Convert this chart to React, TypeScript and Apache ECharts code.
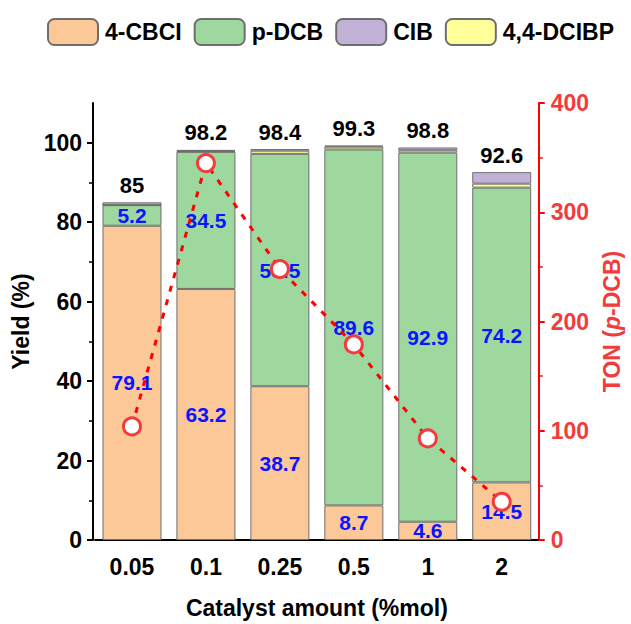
import React, { useEffect, useRef } from "react";
import * as echarts from "echarts";

const categories = ["0.05", "0.1", "0.25", "0.5", "1", "2"];
const cbci = [79.1, 63.2, 38.7, 8.7, 4.6, 14.5];
const pdcb = [5.2, 34.5, 58.5, 89.6, 92.9, 74.2];
const dcibp = [0, 0.2, 0.8, 0.7, 0.6, 1.0];
const cib = [0.7, 0.3, 0.4, 0.3, 0.7, 2.9];
const totals = [85, 98.2, 98.4, 99.3, 98.8, 92.6];
const ton = [104, 345, 248, 179, 93, 35];
const yieldTicks = [0, 20, 40, 60, 80, 100];
const yieldMinor = [10, 30, 50, 70, 90];

const FONT = "'Liberation Sans', Arial, sans-serif";

export default function App() {
  const ref = useRef<HTMLDivElement>(null);
  useEffect(() => {
    if (!ref.current) return;
    const chart = echarts.init(ref.current, undefined, { renderer: "svg" });
    const border = { borderColor: "#6e6e6e", borderWidth: 1 };
    const blueLabel = {
      show: true,
      position: "inside",
      color: "#0a14ff",
      fontWeight: "bold",
      fontSize: 21,
      fontFamily: FONT,
    };
    chart.setOption({
      animation: false,
      textStyle: { fontFamily: FONT },
      legend: {
        left: 42,
        top: 13,
        itemWidth: 50,
        itemHeight: 26,
        itemGap: 12,
        data: ["4-CBCI", "p-DCB", "CIB", "4,4-DCIBP"],
        textStyle: {
          fontSize: 23,
          fontWeight: "bold",
          color: "#000",
          fontFamily: FONT,
          padding: [0, 0, 0, 2],
        },
      },
      grid: { left: 95, right: 89, top: 103, bottom: 81 },
      xAxis: [
        {
          type: "category",
          data: categories,
          position: "bottom",
          name: "Catalyst amount (%mol)",
          nameLocation: "middle",
          nameGap: 56,
          nameTextStyle: { fontSize: 23, fontWeight: "bold", color: "#000", fontFamily: FONT },
          axisLine: { lineStyle: { color: "#000", width: 2 } },
          axisTick: { alignWithLabel: true, length: 8, lineStyle: { color: "#000", width: 2 } },
          axisLabel: { fontSize: 23, fontWeight: "bold", color: "#000", margin: 15, fontFamily: FONT },
        },
        {
          type: "category",
          data: categories,
          position: "bottom",
          axisLine: { show: false },
          axisTick: { length: 5, lineStyle: { color: "#000", width: 1.5 } },
          axisLabel: { show: false },
        },
      ],
      yAxis: [
        {
          type: "value",
          min: 0,
          max: 110,
          interval: 20,
          position: "left",
          offset: 2,
          name: "Yield (%)",
          nameLocation: "middle",
          nameGap: 57,
          nameTextStyle: { fontSize: 23, fontWeight: "bold", color: "#000", fontFamily: FONT },
          axisLine: { show: true, lineStyle: { color: "#000", width: 2 } },
          axisTick: { show: true, length: 6, customValues: yieldTicks, lineStyle: { color: "#000", width: 2 } },
          axisLabel: { fontSize: 23, fontWeight: "bold", color: "#000", margin: 11, customValues: yieldTicks, fontFamily: FONT },
          splitLine: { show: false },
        },
        {
          type: "value",
          min: 0,
          max: 400,
          interval: 100,
          position: "right",
          name: "{a|TON (}{b|p}{a|-DCB)}",
          nameLocation: "middle",
          nameGap: 57,
          nameTextStyle: {
            rich: {
              a: { fontSize: 23, fontWeight: "bold", color: "#f23c3c", fontFamily: FONT },
              b: { fontSize: 23, fontWeight: "bold", fontStyle: "italic", color: "#f23c3c", fontFamily: FONT },
            },
          },
          axisLine: { show: true, lineStyle: { color: "#ff0000", width: 2 } },
          axisTick: { show: true, length: 6, lineStyle: { color: "#ff0000", width: 2 } },
          minorTick: { show: true, splitNumber: 2, length: 4, lineStyle: { color: "#ff0000", width: 1.5 } },
          axisLabel: { fontSize: 23, fontWeight: "bold", color: "#f23c3c", margin: 12, fontFamily: FONT },
          splitLine: { show: false },
        },
        {
          type: "value",
          min: 0,
          max: 110,
          interval: 10,
          position: "left",
          offset: 2,
          axisLine: { show: false },
          axisTick: { show: true, length: 4, customValues: yieldMinor, lineStyle: { color: "#000", width: 1.5 } },
          axisLabel: { show: false },
          splitLine: { show: false },
        },
      ],
      series: [
        {
          name: "4-CBCI",
          type: "bar",
          stack: "y",
          barWidth: 59,
          data: cbci,
          itemStyle: { color: "#fcc897", ...border },
          label: blueLabel,
          z: 2,
        },
        {
          name: "p-DCB",
          type: "bar",
          stack: "y",
          data: pdcb,
          itemStyle: { color: "#9fd89f", ...border },
          label: blueLabel,
          z: 2,
        },
        {
          name: "4,4-DCIBP",
          type: "bar",
          stack: "y",
          data: dcibp,
          itemStyle: { color: "#ffff99", ...border },
          z: 2,
        },
        {
          name: "CIB",
          type: "bar",
          stack: "y",
          data: cib,
          itemStyle: { color: "#c2b2d8", ...border },
          label: {
            show: true,
            position: "top",
            distance: 6,
            color: "#000",
            fontWeight: "bold",
            fontSize: 22,
            fontFamily: FONT,
            formatter: (p: any) => String(totals[p.dataIndex]),
          },
          z: 2,
        },
        {
          name: "TON",
          type: "line",
          yAxisIndex: 1,
          data: ton,
          z: 5,
          symbol: "circle",
          symbolSize: 17,
          lineStyle: { color: "#ff0000", width: 3, type: [6, 8] },
          itemStyle: { color: "#ffffff", borderColor: "#f23c3c", borderWidth: 3 },
        },
      ],
    });
    return () => chart.dispose();
  }, []);
  return (
    <div
      ref={ref}
      style={{ position: "absolute", left: 0, top: 0, width: 631, height: 624, background: "#fff" }}
    />
  );
}
